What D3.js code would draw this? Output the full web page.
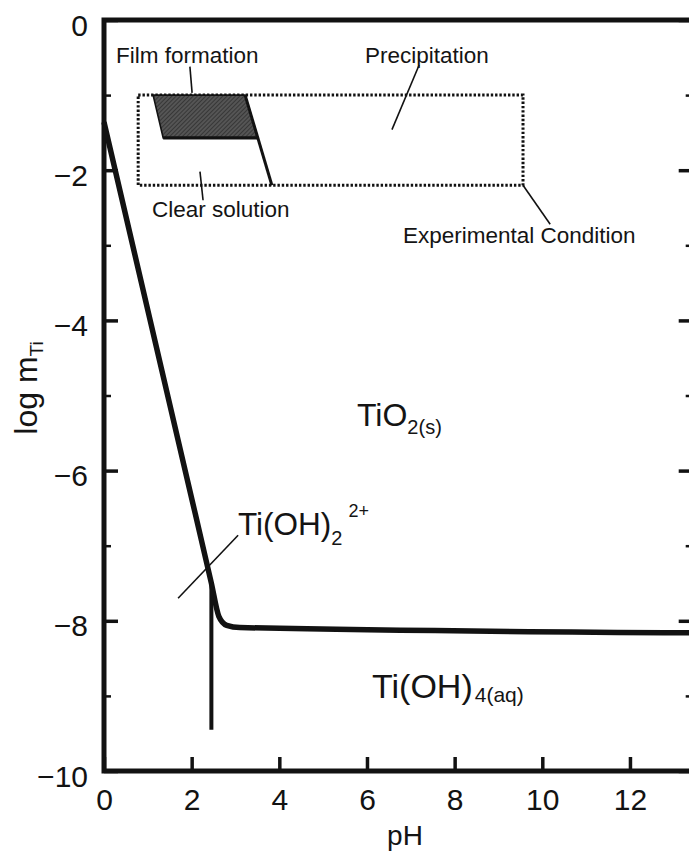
<!DOCTYPE html>
<html>
<head>
<meta charset="utf-8">
<script src="https://cdn.jsdelivr.net/npm/d3@7"></script>
<style>
  body { margin: 0; background: #fff; }
  svg { display: block; }
  text { font-family: "Liberation Sans", Arial, Helvetica, sans-serif; fill: #141414; }
</style>
</head>
<body>
<svg id="chart" width="689" height="854"></svg>
<script>
// Solubility boundary of TiO2(s): log m_Ti against pH
const boundaryPH  = [0, 1.9, 2.45, 2.62, 2.8, 3.1, 13.6];
const boundaryLog = [-1.36, -6.12, -7.5, -7.94, -8.06, -8.09, -8.16];

// Ti(OH)2(2+) / Ti(OH)4(aq) predominance divide
const dividerPH  = [2.45, 2.45];
const dividerLog = [-7.5, -9.45];

// Experimental window (dotted box)
const boxPH  = [0.78, 9.56];
const boxLog = [-1.0, -2.2];

// Film formation region
const filmPH  = [1.12, 3.22, 3.51, 1.35];
const filmLog = [-1.0, -1.0, -1.57, -1.57];

// Precipitation limit through the experimental window
const precipPH  = [3.22, 3.83];
const precipLog = [-1.0, -2.2];

// Axis ticks
const xTicks = [0, 2, 4, 6, 8, 10, 12];
const yTicks = [0, -2, -4, -6, -8, -10];
const yMinorTicks = [-1, -3, -5, -7, -9];

const svg = d3.select("#chart");

const x = d3.scaleLinear().domain([0, 13.5]).range([104, 695.7]);
const y = d3.scaleLinear().domain([-10, 0]).range([771, 20]);

const ink = "#121212";

// hatch for the film formation region
const defs = svg.append("defs");
const pat = defs.append("pattern")
  .attr("id", "hatch").attr("patternUnits", "userSpaceOnUse")
  .attr("width", 3).attr("height", 3)
  .attr("patternTransform", "rotate(45)");
pat.append("rect").attr("width", 3).attr("height", 3).attr("fill", "#555");
pat.append("line").attr("x1", 0).attr("y1", 0).attr("x2", 0).attr("y2", 3)
  .attr("stroke", "#2a2a2a").attr("stroke-width", 1.4);

// axes
const yAxis = d3.axisLeft(y).tickValues(yTicks).tickSizeInner(-14).tickSizeOuter(0)
  .tickPadding(16).tickFormat(d3.format("d"));
const gy = svg.append("g").attr("transform", `translate(${x(0)},0)`).call(yAxis);
gy.select(".domain").remove();
gy.selectAll(".tick line").attr("stroke", ink).attr("stroke-width", 3.5);
gy.selectAll(".tick text").attr("font-size", 30).attr("dy", "0.5em").style("fill", ink);

const yMinor = d3.axisLeft(y).tickValues(yMinorTicks).tickSizeInner(-7).tickSizeOuter(0).tickFormat("");
const gym = svg.append("g").attr("transform", `translate(${x(0)},0)`).call(yMinor);
gym.select(".domain").remove();
gym.selectAll(".tick line").attr("stroke", ink).attr("stroke-width", 2.5);

// mirrored ticks on the right frame
const xr = x.range()[1];
const yRight = d3.axisLeft(y).tickValues(yTicks).tickSizeInner(17).tickSizeOuter(0).tickFormat("");
const gr = svg.append("g").attr("transform", `translate(${xr},0)`).call(yRight);
gr.select(".domain").remove();
gr.selectAll(".tick line").attr("stroke", ink).attr("stroke-width", 3.5);
const yRightMinor = d3.axisLeft(y).tickValues(yMinorTicks).tickSizeInner(10).tickSizeOuter(0).tickFormat("");
const grm = svg.append("g").attr("transform", `translate(${xr},0)`).call(yRightMinor);
grm.select(".domain").remove();
grm.selectAll(".tick line").attr("stroke", ink).attr("stroke-width", 2.5);

const xAxis = d3.axisBottom(x).tickValues(xTicks).tickSizeInner(-14).tickSizeOuter(0)
  .tickPadding(18).tickFormat(d3.format("d"));
const gx = svg.append("g").attr("transform", `translate(0,${y(-10)})`).call(xAxis);
gx.select(".domain").remove();
gx.selectAll(".tick line").attr("stroke", ink).attr("stroke-width", 3.5);
gx.selectAll(".tick text").attr("font-size", 30).style("fill", ink);

// plot frame
svg.append("rect")
  .attr("x", x(0)).attr("y", y(0))
  .attr("width", xr - x(0)).attr("height", y(-10) - y(0))
  .attr("fill", "none").attr("stroke", ink).attr("stroke-width", 5);

// axis titles
svg.append("text").attr("x", 405).attr("y", 845).attr("text-anchor", "middle")
  .attr("font-size", 28).text("pH");
const yt = svg.append("text").attr("transform", "translate(37,388) rotate(-90)")
  .attr("text-anchor", "middle").attr("font-size", 32);
yt.append("tspan").text("log m");
yt.append("tspan").attr("font-size", 19).attr("dy", 6).text("Ti");

// experimental window
svg.append("rect")
  .attr("x", x(boxPH[0])).attr("y", y(boxLog[0]))
  .attr("width", x(boxPH[1]) - x(boxPH[0])).attr("height", y(boxLog[1]) - y(boxLog[0]))
  .attr("fill", "none").attr("stroke", ink).attr("stroke-width", 3)
  .attr("stroke-dasharray", "2.4,1.9");

// film formation region
const filmPts = filmPH.map((p, i) => [x(p), y(filmLog[i])]);
svg.append("path")
  .attr("d", d3.line()(filmPts) + "Z")
  .attr("fill", "url(#hatch)").attr("stroke", ink).attr("stroke-width", 1.6);
svg.append("line")
  .attr("x1", x(filmPH[3])).attr("y1", y(filmLog[3]))
  .attr("x2", x(filmPH[2])).attr("y2", y(filmLog[2]))
  .attr("stroke", ink).attr("stroke-width", 3.2);

// precipitation limit
svg.append("line")
  .attr("x1", x(precipPH[0])).attr("y1", y(precipLog[0]))
  .attr("x2", x(precipPH[1])).attr("y2", y(precipLog[1]))
  .attr("stroke", ink).attr("stroke-width", 3);

// solubility curve
const curve = d3.line().curve(d3.curveMonotoneX)
  .x(d => x(d[0])).y(d => y(d[1]));
svg.append("path")
  .attr("d", curve(boundaryPH.map((p, i) => [p, boundaryLog[i]])))
  .attr("fill", "none").attr("stroke", ink).attr("stroke-width", 5.5)
  .attr("stroke-linejoin", "round");

svg.append("line")
  .attr("x1", x(dividerPH[0])).attr("y1", y(dividerLog[0]))
  .attr("x2", x(dividerPH[1])).attr("y2", y(dividerLog[1]))
  .attr("stroke", ink).attr("stroke-width", 4);

// leader lines for the labels (pH, log m pairs)
const leaders = [
  [[1.96, -0.62], [2.01, -0.97]],
  [[7.19, -0.6], [6.57, -1.46]],
  [[2.19, -2.02], [2.26, -2.4]],
  [[9.56, -2.2], [10.18, -2.72]],
  [[1.69, -7.7], [3.06, -6.86]]
];
leaders.forEach(l => {
  svg.append("line")
    .attr("x1", x(l[0][0])).attr("y1", y(l[0][1]))
    .attr("x2", x(l[1][0])).attr("y2", y(l[1][1]))
    .attr("stroke", ink).attr("stroke-width", 1.6);
});

// annotation texts
const note = (tx, ty, s) => svg.append("text").attr("x", tx).attr("y", ty)
  .attr("font-size", 22.5).text(s);
note(116, 63, "Film formation");
note(365, 63, "Precipitation");
note(152, 217, "Clear solution");
note(403, 243, "Experimental Condition");

// species labels
const t1 = svg.append("text").attr("x", 357).attr("y", 426).attr("font-size", 32);
t1.append("tspan").text("TiO");
t1.append("tspan").attr("font-size", 20).attr("dy", 8).text("2(s)");

const t2 = svg.append("text").attr("x", 238).attr("y", 535).attr("font-size", 31.5);
t2.append("tspan").text("Ti(OH)");
t2.append("tspan").attr("font-size", 20).attr("dy", 10).text("2");
t2.append("tspan").attr("font-size", 18).attr("dx", 6).attr("dy", -28).text("2+");

const t3 = svg.append("text").attr("x", 372).attr("y", 698).attr("font-size", 34);
t3.append("tspan").text("Ti(OH)");
t3.append("tspan").attr("font-size", 21).attr("dx", 2).attr("dy", 4).text("4(aq)");
</script>
</body>
</html>
